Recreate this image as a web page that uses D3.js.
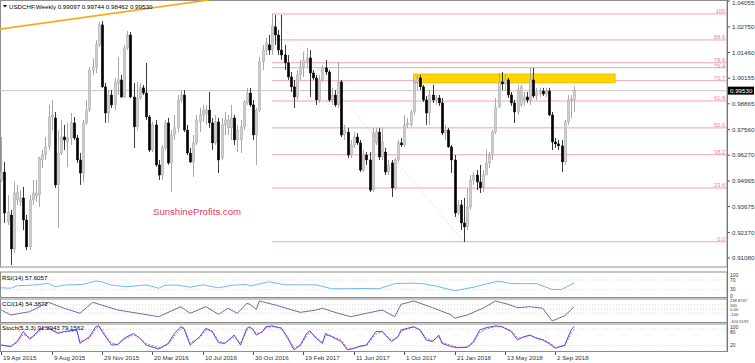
<!DOCTYPE html>
<html><head><meta charset="utf-8">
<script src="https://cdn.jsdelivr.net/npm/d3@7"></script>
<style>body{margin:0;background:#fff}svg{display:block;font-family:"Liberation Sans",Arial,sans-serif}</style>
</head><body><svg id="c" width="755" height="363"></svg>
<script>
// ---------------- data ----------------
const symbolTitle = "USDCHF,Weekly 0.99097 0.99744 0.98462 0.99530";
const dateLabels = ["19 Apr 2015","9 Aug 2015","29 Nov 2015","20 Mar 2016","10 Jul 2016","30 Oct 2016","19 Feb 2017","11 Jun 2017","1 Oct 2017","21 Jan 2018","13 May 2018","2 Sep 2018"];
const dateLabelIdx = [0,16,32,48,64,80,96,112,128,144,160,176];
const priceTicks = [1.04055,1.02750,1.01460,1.00155,0.98865,0.97560,0.96270,0.94965,0.93675,0.92370,0.91080];
const open = [.9502,.9542,.9290,.9325,.9154,.9401,.9391,.9411,.9300,.9164,.9401,.9421,.9426,.9603,.9628,.9669,.9820,.9815,.9477,.9638,.9719,.9694,.9714,.9790,.9714,.9603,.9537,.9790,.9855,1.0057,1.0073,1.0184,1.0285,.9972,.9840,.9931,.9881,.9987,1.0007,.9921,1.0169,1.0234,.9921,.9770,.9916,.9967,.9941,.9820,.9653,.9780,.9578,.9527,.9664,.9790,.9588,.9729,.9765,.9906,.9931,.9754,.9638,.9593,.9689,.9795,.9830,.9835,.9855,.9790,.9689,.9795,.9613,.9780,.9765,.9765,.9815,.9704,.9704,.9770,.9891,.9941,.9881,.9729,.9855,1.0098,1.0158,1.0184,1.0158,1.0275,1.0234,1.0158,1.0133,1.0093,1.0022,.9972,.9921,1.0032,1.0073,1.0098,1.0118,1.0042,1.0017,.9906,1.0007,1.0068,1.0047,.9906,.9931,.9881,.9997,.9729,.9744,.9628,.9679,.9719,.9689,.9552,.9628,.9603,.9451,.9689,.9744,.9618,.9643,.9542,.9588,.9462,.9603,.9689,.9679,.9780,.9780,.9845,.9992,1.0017,.9972,.9906,.9840,.9931,.9906,.9916,.9891,.9739,.9754,.9669,.9603,.9335,.9376,.9285,.9265,.9366,.9502,.9527,.9492,.9462,.9527,.9588,.9628,.9744,.9871,.9997,.9987,1.0007,.9931,.9891,.9845,.9881,.9906,.9921,.9906,1.0007,.9926,.9936,.9951,.9936,.9951,.9830,.9694,.9684,.9674,.9593,.9795,.9906,.99097];
const high = [.9719,.9593,.9426,.9350,.9492,.9477,.9451,.9467,.9325,.9426,.9502,.9502,.9618,.9653,.9719,.9881,.9906,.9845,.9754,.9805,.9780,.9790,.9840,.9820,.9729,.9638,.9805,.9906,1.0073,1.0118,1.0209,1.0300,1.0305,.9992,.9956,.9956,1.0017,1.0123,1.0032,1.0184,1.0254,1.0249,.9992,.9997,.9992,.9982,1.0093,.9830,.9795,.9805,.9603,.9679,.9805,.9815,.9754,.9830,.9931,.9956,.9956,.9780,.9664,.9729,.9830,.9866,.9881,.9881,.9946,.9815,.9830,.9815,.9815,.9845,.9830,.9881,.9830,.9780,.9805,.9906,.9967,.9967,.9906,.9866,1.0123,1.0184,1.0219,1.0234,1.0340,1.0335,1.0259,1.0335,1.0184,1.0133,1.0047,1.0007,1.0057,1.0108,1.0148,1.0169,1.0158,1.0057,1.0032,1.0032,1.0083,1.0108,1.0057,.9967,.9956,1.0098,1.0007,.9780,.9765,.9704,.9744,.9739,.9704,.9653,.9643,.9643,.9765,.9765,.9765,.9765,.9664,.9603,.9603,.9613,.9704,.9714,.9830,.9815,.9855,1.0007,1.0032,1.0032,.9982,.9926,.9956,.9982,.9931,.9931,.9916,.9780,.9765,.9679,.9628,.9401,.9401,.9411,.9462,.9527,.9542,.9552,.9578,.9552,.9653,.9643,.9754,.9916,1.0042,1.0047,1.0037,1.0017,.9946,.9906,.9982,.9982,.9946,.9946,1.0068,1.0068,.9967,.9967,.9967,.9967,.9967,.9845,.9714,.9704,.9704,.9805,.9931,.9931,.99744];
const low = [.9492,.9285,.9275,.9073,.9133,.9376,.9371,.9249,.9148,.9148,.9376,.9391,.9366,.9563,.9603,.9653,.9754,.9462,.9260,.9628,.9653,.9568,.9679,.9704,.9588,.9477,.9492,.9780,.9845,1.0032,1.0042,1.0174,.9967,.9790,.9790,.9866,.9855,.9931,.9916,.9916,1.0158,.9916,.9664,.9754,.9906,.9931,.9805,.9643,.9643,.9568,.9502,.9502,.9653,.9578,.9441,.9704,.9744,.9891,.9744,.9628,.9588,.9517,.9679,.9744,.9795,.9780,.9765,.9653,.9679,.9537,.9603,.9729,.9729,.9704,.9679,.9643,.9638,.9754,.9881,.9871,.9704,.9578,.9845,1.0057,1.0133,1.0133,1.0133,1.0184,1.0133,1.0108,1.0057,1.0007,.9946,.9866,.9906,1.0007,1.0022,1.0068,.9921,1.0007,.9881,.9891,.9997,1.0032,.9896,.9881,.9871,.9866,.9719,.9704,.9613,.9613,.9664,.9679,.9542,.9542,.9578,.9441,.9441,.9679,.9603,.9603,.9527,.9527,.9416,.9451,.9593,.9669,.9669,.9765,.9770,.9830,.9956,.9956,.9896,.9780,.9780,.9891,.9881,.9876,.9729,.9704,.9664,.9537,.9315,.9325,.9249,.9189,.9249,.9350,.9477,.9451,.9436,.9441,.9527,.9563,.9603,.9734,.9866,.9956,.9956,.9916,.9876,.9790,.9830,.9871,.9876,.9891,.9881,.9916,.9906,.9921,.9926,.9921,.9825,.9653,.9664,.9653,.9542,.9578,.9780,.9815,.98462];
const close = [.9542,.9335,.9340,.9154,.9436,.9441,.9411,.9300,.9164,.9401,.9436,.9436,.9613,.9628,.9669,.9820,.9830,.9477,.9638,.9719,.9704,.9714,.9790,.9714,.9603,.9537,.9790,.9855,1.0057,1.0073,1.0184,1.0285,.9972,.9840,.9931,.9881,.9997,1.0007,.9921,1.0169,1.0234,.9921,.9770,.9916,.9967,.9941,.9820,.9653,.9780,.9578,.9527,.9664,.9790,.9588,.9729,.9765,.9906,.9931,.9754,.9638,.9593,.9689,.9805,.9830,.9855,.9855,.9790,.9689,.9795,.9603,.9780,.9805,.9805,.9815,.9704,.9754,.9770,.9896,.9941,.9881,.9729,.9855,1.0098,1.0158,1.0194,1.0158,1.0280,1.0234,1.0158,1.0133,1.0093,1.0022,.9972,.9921,1.0032,1.0073,1.0108,1.0118,1.0042,1.0017,.9906,1.0007,1.0068,1.0047,.9906,.9931,.9881,.9997,.9729,.9754,.9628,.9679,.9719,.9689,.9552,.9628,.9603,.9451,.9739,.9744,.9618,.9694,.9542,.9578,.9462,.9603,.9689,.9679,.9780,.9790,.9845,.9992,1.0017,.9972,.9906,.9840,.9931,.9906,.9916,.9891,.9739,.9754,.9669,.9603,.9335,.9376,.9285,.9265,.9366,.9502,.9527,.9492,.9462,.9527,.9588,.9628,.9744,.9871,.9997,.9987,1.0007,.9931,.9891,.9845,.9956,.9972,.9921,.9906,1.0007,.9926,.9946,.9951,.9936,.9951,.9830,.9694,.9684,.9674,.9593,.9795,.9906,.9911,.99530];
const lastPrice = 0.99530;
const fibLevels = [0,23.6,38.2,50,61.8,70.7,76.4,78.6,88.6,100];
const fibHighIdx = 86, fibLowIdx = 147, fibHigh = 1.0340, fibLow = 0.9190;
const zoneIdx = [131,195], zonePrice = [1.0037,0.9992];
const trendIdx = [-1,66], trendPrice = [1.0262,1.0411];
// indicators (read from the sub-windows)
const rsiIdx = [0,3,5,10,15,17,20,26,30,32,35,40,46,50,52,56,60,64,69,73,78,79,85,90,95,100,105,110,115,120,125,130,134,138,144,150,157,159,162,166,170,175,178,182];
const rsiVal = [38,36,46,49,56,42,49,52,66,62,49,42,50,36,48,49,40,50,38,48,52,45,63,50,50,50,34,34,35,34,55,57,55,45,26,40,63,63,55,55,55,31,31,57.6057];
const cciIdx = [0,3,9,15,20,25,29,37,50,57,60,65,69,72,75,78,79,81,82,87,95,100,102,107,111,116,121,125,127,131,134,137,143,144,148,153,157,161,164,168,172,175,179,182];
const cciVal = [-24,-143,-64,160,17,-103,160,-24,-184,55,-103,55,-127,17,-103,136,112,-8,191,96,-80,-24,17,-103,-184,-103,-24,-184,112,191,112,32,-143,-222,-143,17,191,112,32,55,17,-287,-160,54.3872];
const stIdx = [0,3,5,7,9,10,12,14,15,18,20,24,25,28,30,31,32,35,37,39,42,44,46,50,53,55,57,58,60,63,65,67,69,71,74,76,78,79,80,81,83,84,86,89,91,93,95,97,98,100,102,103,105,108,110,112,114,116,119,121,122,124,126,127,129,131,133,135,137,139,140,143,145,148,150,152,154,157,159,162,164,166,168,170,172,174,176,179,181,182];
const stK = [22,16,35,72,44,53,78,90,84,65,72,78,28,53,90,94,72,22,24,47,65,47,22,7,28,65,90,84,22,53,84,72,31,28,59,22,84,90,78,59,72,90,93,84,47,4,22,65,75,47,28,65,53,35,4,10,18,22,72,72,59,35,53,78,84,90,78,41,35,59,28,16,12,14,35,78,86,93,90,72,41,53,59,47,41,28,10,22,78,91.2943];
const stD = [22,18,30,62,50,52,72,86,86,70,70,75,35,48,82,90,78,30,24,42,60,50,28,12,24,55,82,86,30,48,78,75,38,30,52,30,76,86,82,65,70,85,90,86,52,12,20,55,70,52,32,58,55,40,10,10,16,20,62,72,62,40,50,72,82,88,80,48,38,52,32,20,14,14,30,68,82,90,90,76,48,50,57,50,43,32,14,18,65,79.1562];

// ---------------- drawing ----------------
const svg = d3.select("#c");
const R = 727; // right edge of plotting area
const FS = 6.2;
const x = d3.scaleLinear().domain([0,176]).range([1.3,555.3]);
const y = d3.scaleLinear().domain([0.91080,1.04055]).range([258,1]);
const main = {t:0,b:267};
const pRsi = {t:271.5,b:297.5}, pCci = {t:298.5,b:322.5}, pSt = {t:323.5,b:351.5};
const yR = d3.scaleLinear().domain([0,100]).range([297,272.7]);
const yC = d3.scaleLinear().domain([-310.5197,238.8747]).range([322,299]);
const yS = d3.scaleLinear().domain([0,100]).range([351,324]);

const defs = svg.append("defs");
function clip(id,p){defs.append("clipPath").attr("id",id).append("rect").attr("x",0).attr("y",p.t).attr("width",R).attr("height",p.b-p.t);}
clip("cm",main); clip("cr",pRsi); clip("cc",pCci); clip("cs",pSt);

// panel frames
[main,pRsi,pCci,pSt].forEach(p=>{
  svg.append("rect").attr("x",0.5).attr("y",p.t+0.5).attr("width",R-0.5).attr("height",p.b-p.t-0.5)
    .attr("fill","#fff").attr("stroke","#8c8c8c").attr("stroke-width",1);
});

const gm = svg.append("g").attr("clip-path","url(#cm)");

// fibonacci retracement
const fibX0 = x(fibHighIdx);
const FFS = 5.6;
let prevFib = -1e9;
fibLevels.slice().reverse().forEach(l=>{
  const v = fibLow + (fibHigh-fibLow)*l/100;
  gm.append("line").attr("x1",fibX0).attr("x2",R).attr("y1",y(v)).attr("y2",y(v))
    .attr("stroke","#f2a3ad").attr("stroke-width",1);
  const ty = Math.max(y(v)-1, prevFib+FFS*1.2);
  prevFib = ty;
  gm.append("text").attr("x",R-2).attr("y",ty).attr("text-anchor","end")
    .attr("font-size",FFS).attr("fill","#ec7f90").text(l===0?"0.0":(l===100?"100":l.toFixed(1)));
});
gm.append("line").attr("x1",x(fibHighIdx)).attr("y1",y(fibHigh)).attr("x2",x(fibLowIdx)).attr("y2",y(fibLow))
  .attr("stroke","#b8b8b8").attr("stroke-width",0.7).attr("stroke-dasharray","1,2");

// resistance zone
gm.append("rect").attr("x",x(zoneIdx[0])).attr("y",y(zonePrice[0]))
  .attr("width",x(zoneIdx[1])-x(zoneIdx[0])).attr("height",y(zonePrice[1])-y(zonePrice[0]))
  .attr("fill","#ffd700").attr("stroke","#f0b400").attr("stroke-width",0.8);

// current price line
gm.append("line").attr("x1",0).attr("x2",R).attr("y1",y(lastPrice)).attr("y2",y(lastPrice))
  .attr("stroke","#c6c6c6").attr("stroke-width",1);

// trend line
gm.append("line").attr("x1",x(trendIdx[0])).attr("y1",y(trendPrice[0])).attr("x2",x(trendIdx[1])).attr("y2",y(trendPrice[1]))
  .attr("stroke","#ffa718").attr("stroke-width",1.6);

// candles
const candles = open.map((o,i)=>({i,o,h:high[i],l:low[i],c:close[i]}));
const cg = gm.append("g");
candles.forEach(d=>{
  const bull = d.c>=d.o;
  const cx = Math.round(x(d.i))+0.5;
  cg.append("line").attr("x1",cx).attr("x2",cx).attr("y1",y(d.h)).attr("y2",y(d.l))
    .attr("stroke",bull?"#a8a8a8":"#3a3a3a").attr("stroke-width",1);
  const top = y(Math.max(d.o,d.c)), bot = y(Math.min(d.o,d.c));
  cg.append("rect").attr("x",cx-1.2).attr("y",top).attr("width",2.4).attr("height",Math.max(0.8,bot-top))
    .attr("fill",bull?"#cfcfcf":"#000").attr("stroke",bull?"#9c9c9c":"#000").attr("stroke-width",0.4);
});

// watermark
svg.append("text").attr("x",153).attr("y",215).attr("font-size",9.6).attr("fill","#e8365f").text("SunshineProfits.com");

// title
svg.append("path").attr("d","M3,5 L7,5 L5,7.5 Z").attr("fill","#000");
svg.append("text").attr("x",9).attr("y",8.5).attr("font-size",FS).attr("fill","#000").text(symbolTitle);

// right price axis
priceTicks.forEach(v=>{
  svg.append("line").attr("x1",R).attr("x2",R+3).attr("y1",y(v)).attr("y2",y(v)).attr("stroke","#555");
  svg.append("text").attr("x",R+5).attr("y",Math.max(y(v)+2.2,5)).attr("font-size",FS).attr("fill","#333").text(v.toFixed(5));
});
svg.append("line").attr("x1",R+0.5).attr("x2",R+0.5).attr("y1",0).attr("y2",352).attr("stroke","#777");
svg.append("rect").attr("x",R+1).attr("y",y(lastPrice)-4).attr("width",26).attr("height",8).attr("fill","#000");
svg.append("text").attr("x",R+3).attr("y",y(lastPrice)+2.3).attr("font-size",FS).attr("fill","#fff").text(lastPrice.toFixed(5));

// indicator helpers
function levels(sc,vals){
  vals.forEach(v=>svg.append("line").attr("x1",1).attr("x2",R).attr("y1",sc(v)).attr("y2",sc(v))
    .attr("stroke","#c4c4c4").attr("stroke-width",0.7).attr("stroke-dasharray","1,2"));
}
// labels placed top-down, each at its level where possible, kept apart and inside the sub-window
function axisLabels(sc,vals,p,fmt,fs){
  let prev = -1e9;
  vals.forEach(v=>{
    let yy = Math.max(sc(v)+fs*0.35, p.t+fs, prev+fs+0.5);
    yy = Math.min(yy, p.b+0.5);
    prev = yy;
    svg.append("text").attr("x",R+3).attr("y",yy).attr("font-size",fs).attr("fill","#333").text(fmt(v));
  });
}
function series(idx,vals,sc,cl,color,dash){
  const ln = d3.line().x((d,k)=>x(idx[k])).y(d=>sc(d));
  svg.append("path").attr("clip-path",`url(#${cl})`).attr("d",ln(vals)).attr("fill","none")
    .attr("stroke",color).attr("stroke-width",1).attr("stroke-dasharray",dash||null);
}
// RSI
levels(yR,[70,30]);
series(rsiIdx,rsiVal,yR,"cr","#6fb7f5");
axisLabels(yR,[100,70,30,0],pRsi,v=>String(v),5);
svg.append("text").attr("x",2).attr("y",279.5).attr("font-size",FS).attr("fill","#000").text("RSI(14) 57.6057");
// CCI
levels(yC,[100,0,-100]);
series(cciIdx,cciVal,yC,"cc","#7468a6");
axisLabels(yC,[238.8747,100,0,-100,-310.5197],{t:pCci.t-0.5,b:pCci.b},v=>v===0?"0.00":(Number.isInteger(v)?String(v):v.toFixed(4)),4.1);
svg.append("text").attr("x",2).attr("y",306).attr("font-size",FS).attr("fill","#000").text("CCI(14) 54.3872");
// Stochastic
levels(yS,[80,20]);
series(stIdx,stD,yS,"cs","#ff5a5a","2,1.5");
series(stIdx,stK,yS,"cs","#4a4aff");
axisLabels(yS,[100,80,20],pSt,v=>String(v),5);
svg.append("text").attr("x",2).attr("y",330).attr("font-size",FS).attr("fill","#000").text("Stoch(5,3,3) 91.2943 79.1562");

// date axis
dateLabelIdx.forEach((d,k)=>{
  const xx = Math.round(x(d))+0.5;
  svg.append("line").attr("x1",xx).attr("x2",xx).attr("y1",352).attr("y2",355).attr("stroke","#555");
  svg.append("text").attr("x",xx+1.5).attr("y",360).attr("font-size",FS).attr("fill","#333").text(dateLabels[k]);
});
</script></body></html>
